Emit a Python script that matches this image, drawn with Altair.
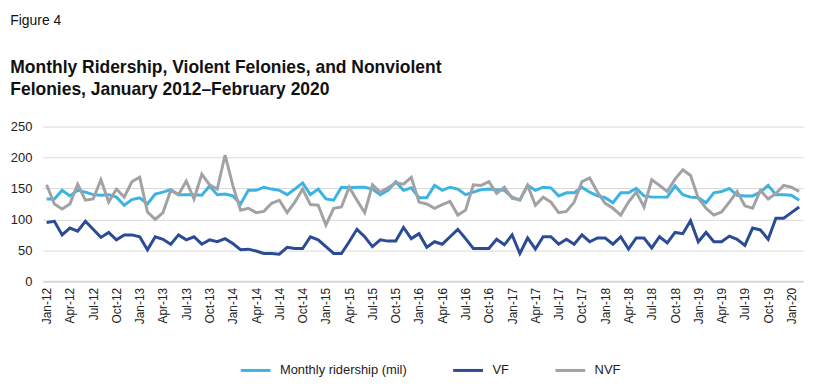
import altair as alt
import pandas as pd

month_names = ["Jan", "Feb", "Mar", "Apr", "May", "Jun", "Jul", "Aug", "Sep", "Oct", "Nov", "Dec"]
years = list(range(12, 21))
months = [f"{m}-{y:02d}" for y in years for m in month_names][:98]  # Jan-12 .. Feb-20
tick_labels = [m for m in months if m[:3] in ("Jan", "Apr", "Jul", "Oct")]

ridership = [133, 133, 147, 138, 147, 144, 140, 139, 140, 136, 123, 132,
             135, 125, 141, 144, 148, 140, 140, 140, 139, 154, 140, 141,
             138, 125, 147, 147, 152, 149, 147, 140, 149, 159, 140, 149,
             133, 131, 152, 151, 152, 152, 149, 140, 147, 161, 147, 151,
             135, 135, 155, 147, 152, 149, 140, 144, 148, 149, 148, 147,
             136, 131, 155, 147, 152, 151, 138, 143, 143, 152, 144, 138,
             135, 127, 143, 143, 150, 138, 136, 136, 136, 154, 140, 136,
             135, 127, 143, 145, 150, 139, 138, 138, 144, 155, 140, 140,
             139, 131]

vf = [95, 97, 75, 86, 81, 97, 84, 71, 79, 67, 75, 75,
      72, 51, 72, 68, 60, 75, 67, 72, 60, 67, 64, 69,
      61, 51, 52, 49, 45, 45, 44, 55, 53, 53, 72, 67,
      56, 45, 45, 64, 84, 72, 56, 67, 65, 65, 87, 69,
      77, 55, 64, 60, 72, 84, 69, 53, 53, 53, 68, 59,
      75, 45, 70, 52, 72, 72, 60, 68, 60, 75, 64, 70,
      70, 60, 72, 52, 70, 70, 54, 72, 62, 79, 77, 98,
      64, 79, 64, 64, 73, 68, 58, 86, 83, 68, 102, 102,
      111, 120]

nvf = [156, 125, 117, 125, 157, 131, 133, 164, 128, 149, 136, 161,
       168, 112, 100, 111, 147, 140, 162, 133, 173, 156, 149, 204,
       155, 115, 118, 111, 113, 126, 131, 111, 128, 149, 124, 123,
       91, 118, 120, 152, 131, 111, 156, 144, 151, 159, 157, 168,
       128, 125, 118, 124, 129, 107, 115, 156, 155, 161, 142, 152,
       134, 132, 155, 123, 136, 128, 111, 113, 128, 161, 167, 144,
       126, 118, 107, 128, 144, 120, 164, 155, 145, 165, 180, 171,
       134, 118, 107, 112, 128, 145, 122, 118, 147, 133, 142, 155,
       152, 145]

series_names = ["Monthly ridership (mil)", "VF", "NVF"]
series_colors = ["#3bb3e4", "#2b4c95", "#a2a2a4"]

rows = []
for name, vals in zip(series_names, [ridership, vf, nvf]):
    for m, v in zip(months, vals):
        rows.append({"month": m, "value": v, "series": name})
df = pd.DataFrame(rows)

FONT = "Liberation Sans"

chart = alt.Chart(df).mark_line(strokeWidth=3).encode(
    x=alt.X("month:N", sort=months,
            scale=alt.Scale(type="point", padding=0.5),
            axis=alt.Axis(values=tick_labels, labelAngle=270, title=None,
                          ticks=False, grid=False, domain=True,
                          domainColor="#d9d9d9", domainWidth=2,
                          labelFont=FONT, labelFontSize=12, labelColor="#222222",
                          labelPadding=6)),
    y=alt.Y("value:Q", scale=alt.Scale(domain=[0, 250], nice=False),
            axis=alt.Axis(values=[0, 50, 100, 150, 200, 250], title=None,
                          ticks=False, domain=False, grid=True,
                          gridColor="#d9d9d9", gridWidth=1,
                          labelFont=FONT, labelFontSize=13, labelColor="#222222",
                          labelPadding=11)),
    color=alt.Color("series:N",
                    scale=alt.Scale(domain=series_names, range=series_colors),
                    sort=series_names,
                    legend=alt.Legend(orient="none", direction="horizontal",
                                      legendX=198, legendY=229,
                                      title=None, symbolType="stroke",
                                      symbolStrokeWidth=3, symbolSize=900,
                                      labelFont=FONT, labelFontSize=13,
                                      labelColor="#222222", columnPadding=40,
                                      labelOffset=8)),
).properties(
    width=766,
    height=156,
    padding={"left": 2, "right": 4, "top": 4, "bottom": 5},
    title=alt.Title("Figure 4",
                    subtitle=["Monthly Ridership, Violent Felonies, and Nonviolent",
                              "Felonies, January 2012\u2013February 2020"],
                    anchor="start", frame="bounds",
                    font=FONT, fontSize=14, fontWeight="normal", color="#111111",
                    subtitleFont=FONT, subtitleFontSize=17.6,
                    subtitleFontWeight="bold", subtitleColor="#111111",
                    subtitleLineHeight=22, subtitlePadding=32, offset=22),
).configure_view(stroke=None)

chart.save("out.html", embed_options={"renderer": "svg", "actions": False})
